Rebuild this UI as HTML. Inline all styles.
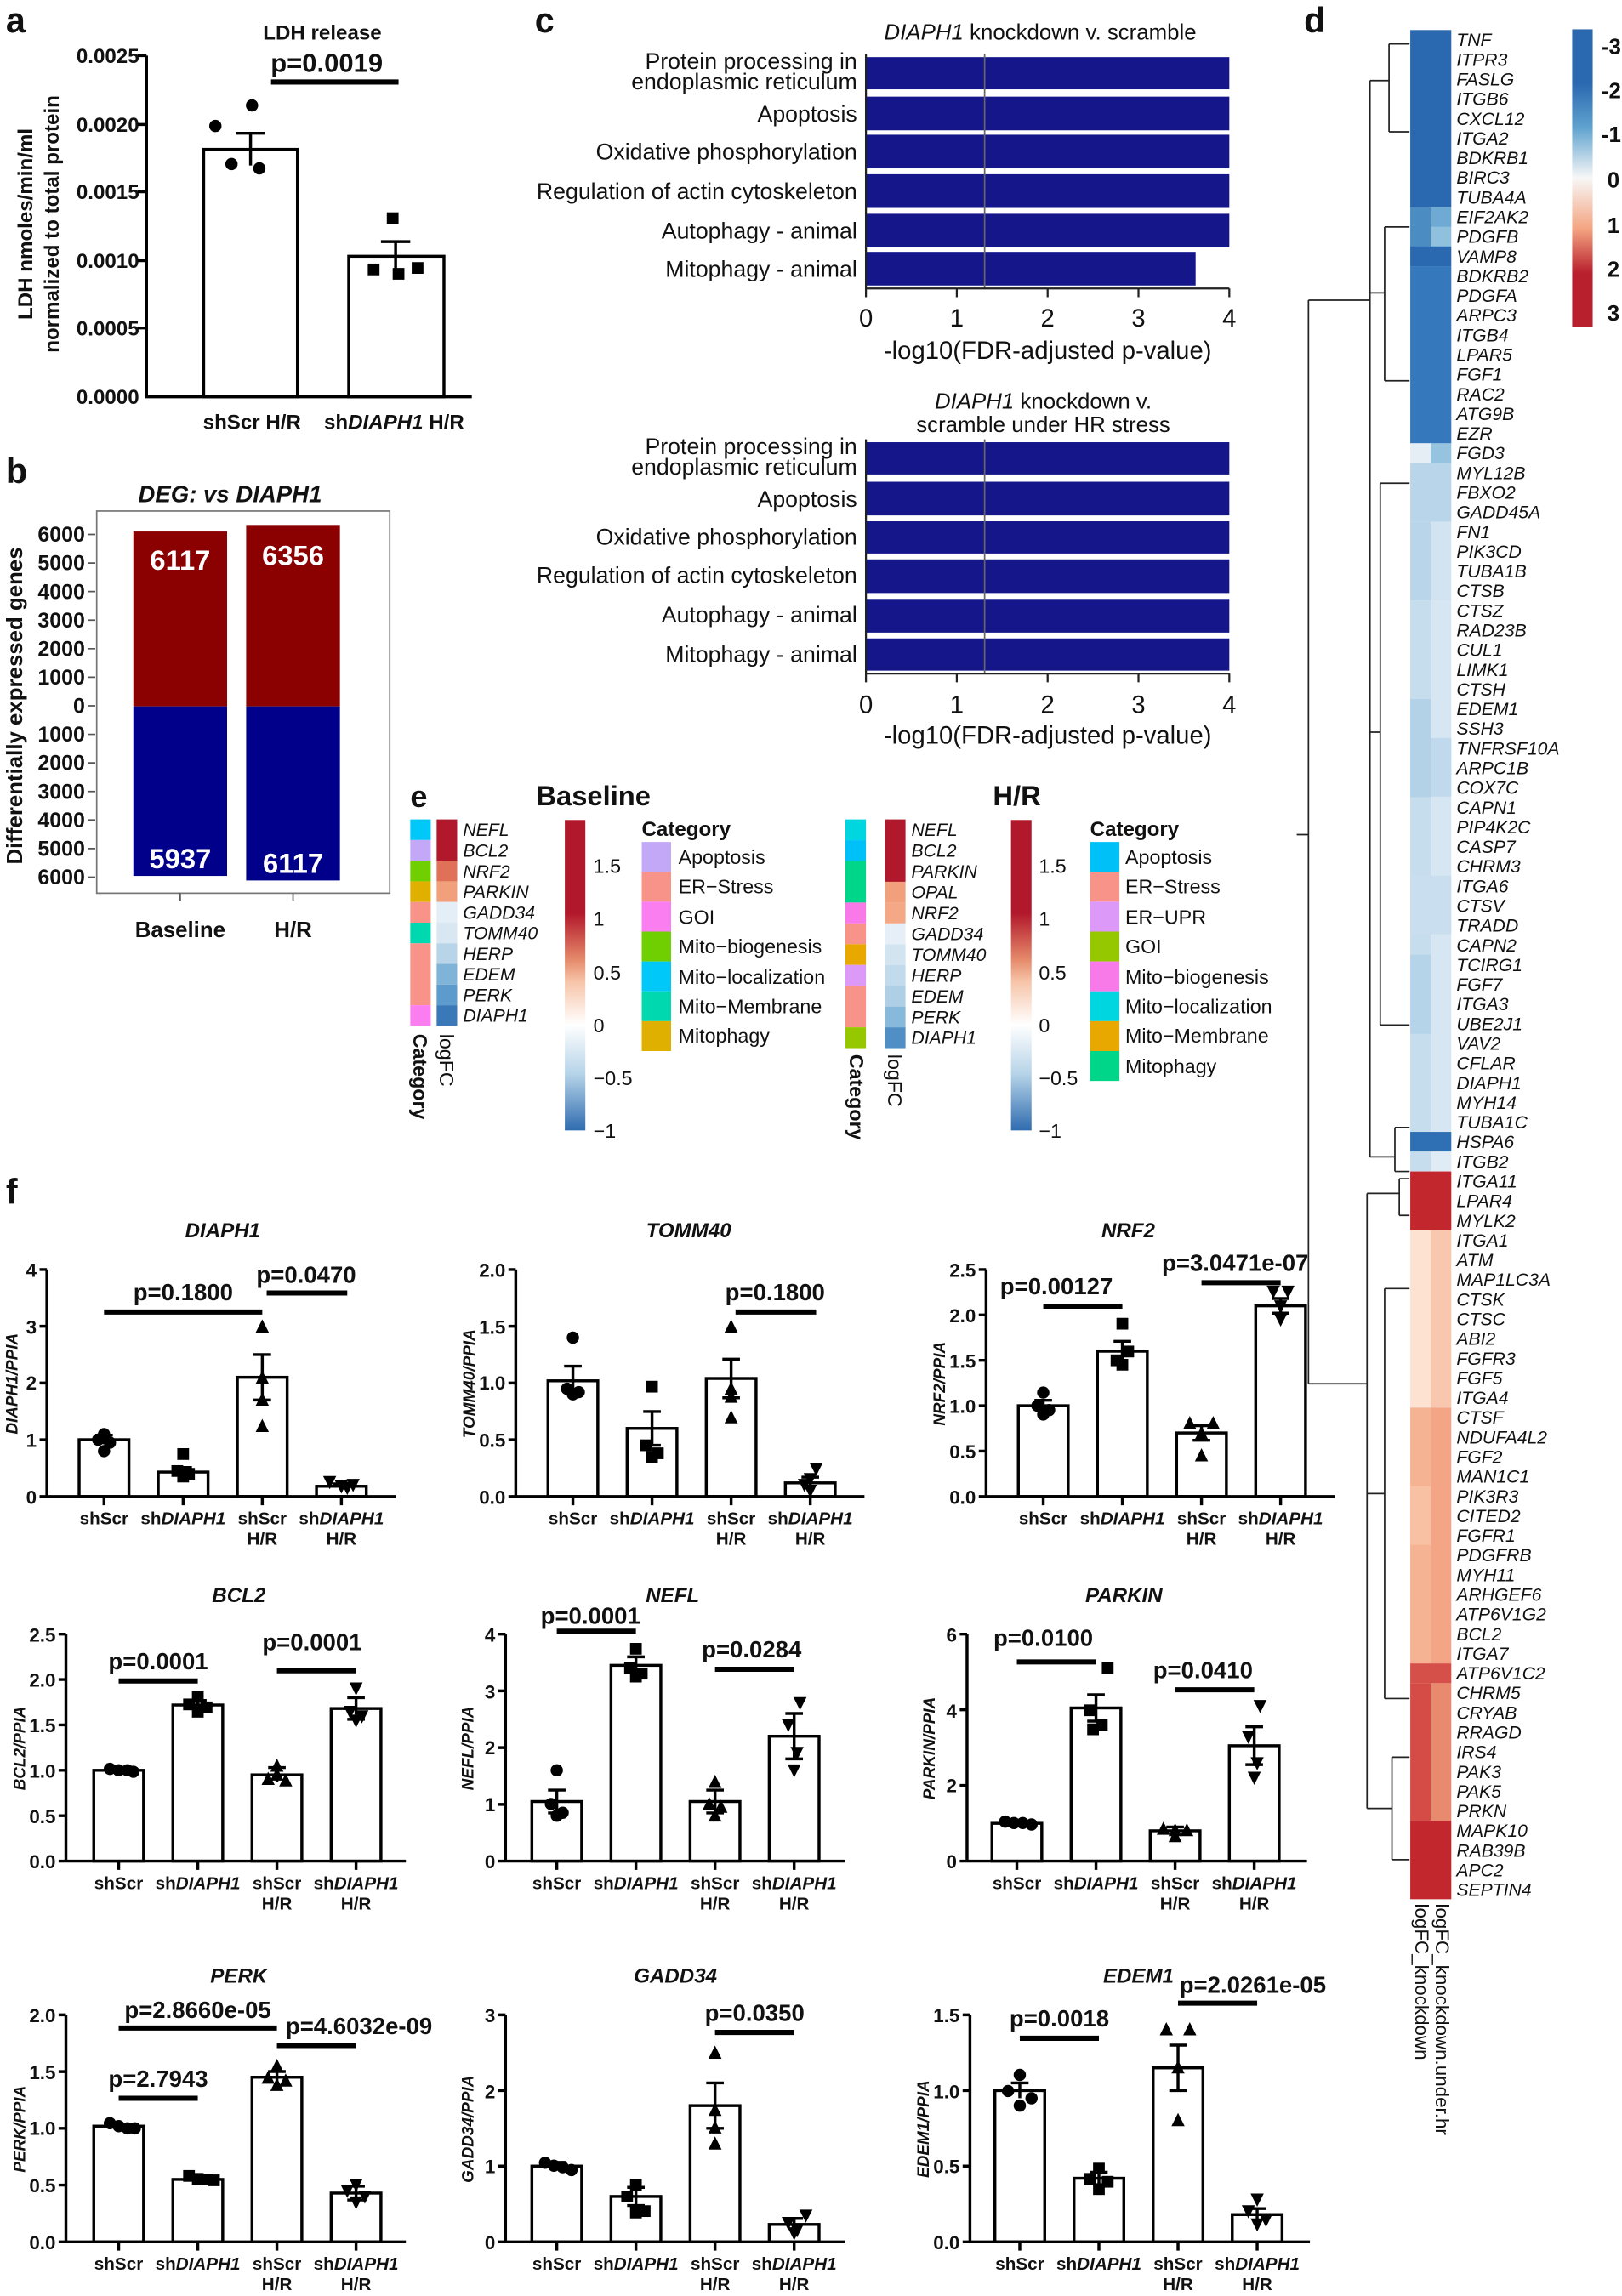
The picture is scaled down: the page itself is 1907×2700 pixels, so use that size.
<!DOCTYPE html>
<html><head><meta charset="utf-8"><style>
html,body{margin:0;padding:0;background:#fff}
svg{display:block}
text{font-family:"Liberation Sans",sans-serif;fill:#111}
.b{font-weight:bold}
.i{font-style:italic}
.tk{font-size:13px;font-weight:bold;text-anchor:end}
.cl{font-size:12px;font-weight:bold;text-anchor:middle}
.pv{font-size:16px;font-weight:bold;text-anchor:middle}
.ttl{font-size:14px;font-weight:bold;font-style:italic;text-anchor:middle}
.yl{font-size:11px;font-weight:bold;font-style:italic;text-anchor:middle}
.bar{fill:#fff;stroke:#000;stroke-width:2}
.ax{stroke:#000;stroke-width:2;fill:none}
.pl{stroke:#000;stroke-width:3.5}
.ct{font-size:15.5px;text-anchor:end}
.hm{font-size:12.3px;font-style:italic}
.lg{font-size:13.5px}
</style></head><body>
<svg width="1907" height="2700" viewBox="0 0 1107 1568" preserveAspectRatio="none" xmlns="http://www.w3.org/2000/svg">
<defs>
<circle id="mc" r="4.2" fill="#000"/>
<rect id="ms" x="-4" y="-4" width="8" height="8" fill="#000"/>
<path id="mt" d="M0,-5 L4.5,4 L-4.5,4Z" fill="#000"/>
<path id="mv" d="M0,5 L4.5,-4 L-4.5,-4Z" fill="#000"/>
<linearGradient id="gd" x1="0" y1="0" x2="0" y2="1">
<stop offset="0" stop-color="#2a68b0"/><stop offset="0.18" stop-color="#2a68b0"/><stop offset="0.33" stop-color="#5fa2cf"/><stop offset="0.5" stop-color="#f7f7f7"/><stop offset="0.67" stop-color="#f4a582"/><stop offset="0.82" stop-color="#b8202d"/><stop offset="1" stop-color="#b8202d"/>
</linearGradient>
<linearGradient id="ge" x1="0" y1="0" x2="0" y2="1">
<stop offset="0" stop-color="#b2182b"/><stop offset="0.3" stop-color="#b2182b"/><stop offset="0.45" stop-color="#e58a6a"/><stop offset="0.52" stop-color="#f7c4a8"/><stop offset="0.66" stop-color="#ffffff"/><stop offset="0.82" stop-color="#b5d3e8"/><stop offset="1" stop-color="#2f6cb0"/>
</linearGradient>
</defs>

<!-- ===== Panel a ===== -->
<text x="4" y="22" class="b" font-size="24">a</text>
<text x="220" y="27" class="b" font-size="14" text-anchor="middle">LDH release</text>
<text x="223" y="49" class="b" font-size="18" text-anchor="middle">p=0.0019</text>
<line x1="185" y1="56" x2="272" y2="56" class="pl"/>
<g transform="rotate(-90)">
<text x="-153" y="22" class="b" font-size="14" text-anchor="middle">LDH nmoles/min/ml</text>
<text x="-153" y="40" class="b" font-size="14" text-anchor="middle">normalized to total protein</text>
</g>
<line x1="100" y1="38" x2="100" y2="271" class="ax"/>
<line x1="99" y1="271" x2="322" y2="271" class="ax"/>
<g font-size="14" font-weight="bold" text-anchor="end"><text x="95" y="43">0.0025</text><text x="95" y="90">0.0020</text><text x="95" y="136">0.0015</text><text x="95" y="183">0.0010</text><text x="95" y="229">0.0005</text><text x="95" y="276">0.0000</text></g>
<path d="M94,38H100M94,85H100M94,131H100M94,178H100M94,224H100" class="ax"/>
<rect x="139" y="102" width="64" height="169" class="bar"/>
<rect x="238" y="175" width="65" height="96" class="bar"/>
<path d="M171,91V113M161,91H181M270,165V186M260,165H280" class="ax"/>
<use href="#mc" x="172" y="72"/><use href="#mc" x="147" y="86"/><use href="#mc" x="177" y="115"/><use href="#mc" x="158" y="112"/>
<use href="#ms" x="268" y="149"/><use href="#ms" x="255" y="184"/><use href="#ms" x="272" y="187"/><use href="#ms" x="285" y="183"/>
<text x="172" y="293" class="b" font-size="14" text-anchor="middle">shScr  H/R</text>
<text x="269" y="293" class="b" font-size="14" text-anchor="middle">sh<tspan class="i">DIAPH1</tspan> H/R</text>

<!-- ===== Panel b ===== -->
<text x="4" y="330" class="b" font-size="24">b</text>
<text x="157" y="343" class="b i" font-size="16" text-anchor="middle">DEG: vs DIAPH1</text>
<rect x="66" y="349" width="200" height="261" fill="none" stroke="#777" stroke-width="1"/>
<path d="M60,365h5M60,384.5h5M60,404h5M60,423.5h5M60,443h5M60,462.5h5M60,482h5M60,501.5h5M60,521h5M60,540.5h5M60,560h5M60,579.5h5M60,599h5M123,610v5M200,610v5" stroke="#555" stroke-width="1"/>
<rect x="91" y="363" width="64" height="119.4" fill="#8b0000"/>
<rect x="168" y="358.5" width="64" height="123.9" fill="#8b0000"/>
<rect x="91" y="482.4" width="64" height="115.8" fill="#00008b"/>
<rect x="168" y="482.4" width="64" height="118.9" fill="#00008b"/>
<text x="123" y="389" class="b" font-size="19" text-anchor="middle" style="fill:#fff">6117</text>
<text x="200" y="386" class="b" font-size="19" text-anchor="middle" style="fill:#fff">6356</text>
<text x="123" y="593" class="b" font-size="19" text-anchor="middle" style="fill:#fff">5937</text>
<text x="200" y="596" class="b" font-size="19" text-anchor="middle" style="fill:#fff">6117</text>
<g font-size="14.5" font-weight="bold" text-anchor="end">
<text x="58" y="370">6000</text><text x="58" y="389.5">5000</text><text x="58" y="409">4000</text><text x="58" y="428.5">3000</text><text x="58" y="448">2000</text><text x="58" y="467.5">1000</text><text x="58" y="487">0</text><text x="58" y="506.5">1000</text><text x="58" y="526">2000</text><text x="58" y="545.5">3000</text><text x="58" y="565">4000</text><text x="58" y="584.5">5000</text><text x="58" y="604">6000</text>
</g>
<text transform="translate(15,482) rotate(-90)" class="b" font-size="15" text-anchor="middle">Differentially expressed genes</text>
<text x="123" y="640" class="b" font-size="15" text-anchor="middle">Baseline</text>
<text x="200" y="640" class="b" font-size="15" text-anchor="middle">H/R</text>

<!-- ===== Panel c ===== -->
<text x="365" y="22" class="b" font-size="24">c</text>
<text x="710" y="27" font-size="15" text-anchor="middle"><tspan class="i">DIAPH1</tspan> knockdown v. scramble</text>
<g fill="#14168a">
<rect x="591" y="39" width="248" height="22"/><rect x="591" y="66" width="248" height="23"/><rect x="591" y="92" width="248" height="23"/><rect x="591" y="119" width="248" height="23"/><rect x="591" y="146" width="248" height="23"/><rect x="591" y="172" width="225" height="23"/>
<rect x="591" y="302" width="248" height="22"/><rect x="591" y="329" width="248" height="23"/><rect x="591" y="356" width="248" height="22"/><rect x="591" y="382" width="248" height="23"/><rect x="591" y="409" width="248" height="23"/><rect x="591" y="436" width="248" height="22"/>
</g>
<line x1="672" y1="37" x2="672" y2="197" stroke="#666" stroke-width="1"/>
<line x1="672" y1="300" x2="672" y2="460" stroke="#666" stroke-width="1"/>
<path d="M591,37V197H839M591,197v6M653,197v6M715,197v6M777,197v6M839,197v6" stroke="#222" stroke-width="1.3" fill="none"/>
<path d="M591,300V460H839M591,460v6M653,460v6M715,460v6M777,460v6M839,460v6" stroke="#222" stroke-width="1.3" fill="none"/>
<g font-size="17" text-anchor="middle">
<text x="591" y="223">0</text><text x="653" y="223">1</text><text x="715" y="223">2</text><text x="777" y="223">3</text><text x="839" y="223">4</text>
<text x="715" y="245">-log10(FDR-adjusted p-value)</text>
<text x="591" y="487">0</text><text x="653" y="487">1</text><text x="715" y="487">2</text><text x="777" y="487">3</text><text x="839" y="487">4</text>
<text x="715" y="508">-log10(FDR-adjusted p-value)</text>
</g>
<g class="ct">
<text x="585" y="47" class="ct">Protein processing in</text><text x="585" y="61" class="ct">endoplasmic reticulum</text>
<text x="585" y="83" class="ct">Apoptosis</text><text x="585" y="109" class="ct">Oxidative phosphorylation</text><text x="585" y="136" class="ct">Regulation of actin cytoskeleton</text><text x="585" y="163" class="ct">Autophagy - animal</text><text x="585" y="189" class="ct">Mitophagy - animal</text>
<text x="585" y="310" class="ct">Protein processing in</text><text x="585" y="324" class="ct">endoplasmic reticulum</text>
<text x="585" y="346" class="ct">Apoptosis</text><text x="585" y="372" class="ct">Oxidative phosphorylation</text><text x="585" y="398" class="ct">Regulation of actin cytoskeleton</text><text x="585" y="425" class="ct">Autophagy - animal</text><text x="585" y="452" class="ct">Mitophagy - animal</text>
</g>
<text x="712" y="279" font-size="15" text-anchor="middle"><tspan class="i">DIAPH1</tspan> knockdown v.</text>
<text x="712" y="295" font-size="15" text-anchor="middle">scramble under HR stress</text>

<!-- ===== Panel d ===== -->
<text x="890" y="22" class="b" font-size="24">d</text>
<path d="M885,570H893M893,205V945M893,205H935M935,55V790M893,945H933M933,815V1235
M935,55H948M948,30V90M948,30H962M948,90H962M935,200H945M945,155V260M945,155H962M945,260H962M935,500H942M942,330V700M942,330H962M942,700H962M935,790H952M952,770V800M952,770H962M952,800H962
M933,815H955M955,805V830M955,805H962M955,830H962M933,1235H950M933,1020H945M945,880V1160M945,880H962M945,1160H962M950,1200V1270M950,1200H962M950,1270H962" stroke="#222" stroke-width="1" fill="none"/>
<g>
<rect x="962.5" y="20.5" width="28" height="121" fill="#2a68b0"/>
<rect x="962.5" y="141.5" width="14" height="27" fill="#4b8dc3"/><rect x="976.5" y="141.5" width="14" height="13.5" fill="#6eaad3"/><rect x="976.5" y="155" width="14" height="13.5" fill="#8fc0de"/>
<rect x="962.5" y="168.3" width="28" height="13.5" fill="#2a68b0"/>
<rect x="962.5" y="181.8" width="28" height="121" fill="#3578bb"/>
<rect x="962.5" y="302.7" width="14" height="13.5" fill="#e5eef5"/><rect x="976.5" y="302.7" width="14" height="13.5" fill="#96c3df"/>
<rect x="962.5" y="316.1" width="28" height="40.3" fill="#b8d5ea"/>
<rect x="962.5" y="356.4" width="14" height="53.8" fill="#b8d5ea"/><rect x="976.5" y="356.4" width="14" height="53.8" fill="#d2e4f1"/>
<rect x="962.5" y="410.2" width="14" height="363" fill="#c6ddee"/><rect x="976.5" y="410.2" width="14" height="363" fill="#d6e7f3"/>
<rect x="962.5" y="477.4" width="14" height="67" fill="#b3d2e8"/><rect x="976.5" y="504" width="14" height="40" fill="#c0d9ec"/>
<rect x="962.5" y="598" width="28" height="40" fill="#c9dfef"/>
<rect x="962.5" y="652" width="14" height="54" fill="#b6d4e9"/>
<rect x="962.5" y="773" width="28" height="13.5" fill="#2f6fb3"/>
<rect x="962.5" y="786.4" width="14" height="13.5" fill="#c6ddee"/><rect x="976.5" y="786.4" width="14" height="13.5" fill="#e0ecf5"/>
<rect x="962.5" y="800" width="28" height="40.3" fill="#c1272d"/>
<rect x="962.5" y="840.3" width="14" height="121" fill="#fde2d2"/><rect x="976.5" y="840.3" width="14" height="121" fill="#f9c7ad"/>
<rect x="962.5" y="961.3" width="14" height="174.7" fill="#f6b394"/><rect x="976.5" y="961.3" width="14" height="174.7" fill="#f3a585"/>
<rect x="962.5" y="1015" width="14" height="40" fill="#f8c1a4"/>
<rect x="962.5" y="1136" width="28" height="13.5" fill="#d6504a"/>
<rect x="962.5" y="1149.5" width="14" height="94" fill="#d44c45"/><rect x="976.5" y="1149.5" width="14" height="94" fill="#e88a6e"/>
<rect x="962.5" y="1243.5" width="28" height="53.5" fill="#c1272d"/>
</g>
<text class="hm" x="994" y="31.5"><tspan x="994">TNF</tspan><tspan x="994" dy="13.44">ITPR3</tspan><tspan x="994" dy="13.44">FASLG</tspan><tspan x="994" dy="13.44">ITGB6</tspan><tspan x="994" dy="13.44">CXCL12</tspan><tspan x="994" dy="13.44">ITGA2</tspan><tspan x="994" dy="13.44">BDKRB1</tspan><tspan x="994" dy="13.44">BIRC3</tspan><tspan x="994" dy="13.44">TUBA4A</tspan><tspan x="994" dy="13.44">EIF2AK2</tspan><tspan x="994" dy="13.44">PDGFB</tspan><tspan x="994" dy="13.44">VAMP8</tspan><tspan x="994" dy="13.44">BDKRB2</tspan><tspan x="994" dy="13.44">PDGFA</tspan><tspan x="994" dy="13.44">ARPC3</tspan><tspan x="994" dy="13.44">ITGB4</tspan><tspan x="994" dy="13.44">LPAR5</tspan><tspan x="994" dy="13.44">FGF1</tspan><tspan x="994" dy="13.44">RAC2</tspan><tspan x="994" dy="13.44">ATG9B</tspan><tspan x="994" dy="13.44">EZR</tspan><tspan x="994" dy="13.44">FGD3</tspan><tspan x="994" dy="13.44">MYL12B</tspan><tspan x="994" dy="13.44">FBXO2</tspan><tspan x="994" dy="13.44">GADD45A</tspan><tspan x="994" dy="13.44">FN1</tspan><tspan x="994" dy="13.44">PIK3CD</tspan><tspan x="994" dy="13.44">TUBA1B</tspan><tspan x="994" dy="13.44">CTSB</tspan><tspan x="994" dy="13.44">CTSZ</tspan><tspan x="994" dy="13.44">RAD23B</tspan><tspan x="994" dy="13.44">CUL1</tspan><tspan x="994" dy="13.44">LIMK1</tspan><tspan x="994" dy="13.44">CTSH</tspan><tspan x="994" dy="13.44">EDEM1</tspan><tspan x="994" dy="13.44">SSH3</tspan><tspan x="994" dy="13.44">TNFRSF10A</tspan><tspan x="994" dy="13.44">ARPC1B</tspan><tspan x="994" dy="13.44">COX7C</tspan><tspan x="994" dy="13.44">CAPN1</tspan><tspan x="994" dy="13.44">PIP4K2C</tspan><tspan x="994" dy="13.44">CASP7</tspan><tspan x="994" dy="13.44">CHRM3</tspan><tspan x="994" dy="13.44">ITGA6</tspan><tspan x="994" dy="13.44">CTSV</tspan><tspan x="994" dy="13.44">TRADD</tspan><tspan x="994" dy="13.44">CAPN2</tspan><tspan x="994" dy="13.44">TCIRG1</tspan><tspan x="994" dy="13.44">FGF7</tspan><tspan x="994" dy="13.44">ITGA3</tspan><tspan x="994" dy="13.44">UBE2J1</tspan><tspan x="994" dy="13.44">VAV2</tspan><tspan x="994" dy="13.44">CFLAR</tspan><tspan x="994" dy="13.44">DIAPH1</tspan><tspan x="994" dy="13.44">MYH14</tspan><tspan x="994" dy="13.44">TUBA1C</tspan><tspan x="994" dy="13.44">HSPA6</tspan><tspan x="994" dy="13.44">ITGB2</tspan><tspan x="994" dy="13.44">ITGA11</tspan><tspan x="994" dy="13.44">LPAR4</tspan><tspan x="994" dy="13.44">MYLK2</tspan><tspan x="994" dy="13.44">ITGA1</tspan><tspan x="994" dy="13.44">ATM</tspan><tspan x="994" dy="13.44">MAP1LC3A</tspan><tspan x="994" dy="13.44">CTSK</tspan><tspan x="994" dy="13.44">CTSC</tspan><tspan x="994" dy="13.44">ABI2</tspan><tspan x="994" dy="13.44">FGFR3</tspan><tspan x="994" dy="13.44">FGF5</tspan><tspan x="994" dy="13.44">ITGA4</tspan><tspan x="994" dy="13.44">CTSF</tspan><tspan x="994" dy="13.44">NDUFA4L2</tspan><tspan x="994" dy="13.44">FGF2</tspan><tspan x="994" dy="13.44">MAN1C1</tspan><tspan x="994" dy="13.44">PIK3R3</tspan><tspan x="994" dy="13.44">CITED2</tspan><tspan x="994" dy="13.44">FGFR1</tspan><tspan x="994" dy="13.44">PDGFRB</tspan><tspan x="994" dy="13.44">MYH11</tspan><tspan x="994" dy="13.44">ARHGEF6</tspan><tspan x="994" dy="13.44">ATP6V1G2</tspan><tspan x="994" dy="13.44">BCL2</tspan><tspan x="994" dy="13.44">ITGA7</tspan><tspan x="994" dy="13.44">ATP6V1C2</tspan><tspan x="994" dy="13.44">CHRM5</tspan><tspan x="994" dy="13.44">CRYAB</tspan><tspan x="994" dy="13.44">RRAGD</tspan><tspan x="994" dy="13.44">IRS4</tspan><tspan x="994" dy="13.44">PAK3</tspan><tspan x="994" dy="13.44">PAK5</tspan><tspan x="994" dy="13.44">PRKN</tspan><tspan x="994" dy="13.44">MAPK10</tspan><tspan x="994" dy="13.44">RAB39B</tspan><tspan x="994" dy="13.44">APC2</tspan><tspan x="994" dy="13.44">SEPTIN4</tspan></text>
<text transform="translate(966,1300) rotate(90)" font-size="13">logFC_knockdown</text>
<text transform="translate(980,1300) rotate(90)" font-size="13">logFC_knockdown.under.hr</text>
<rect x="1073" y="20" width="14" height="203" fill="url(#gd)"/>
<g class="b" font-size="15"><text x="1093" y="37">-3</text><text x="1093" y="67">-2</text><text x="1093" y="97">-1</text><text x="1097" y="128">0</text><text x="1097" y="159">1</text><text x="1097" y="189">2</text><text x="1097" y="219">3</text></g>

<!-- ===== Panel e ===== -->
<text x="280" y="551" class="b" font-size="21">e</text>
<text x="405" y="550" class="b" font-size="19" text-anchor="middle">Baseline</text>
<text x="694" y="550" class="b" font-size="19" text-anchor="middle">H/R</text>
<g>
<rect x="280" y="559.6" width="14" height="14.1" fill="#00c8f8"/><rect x="280" y="573.7" width="14" height="14.1" fill="#c4a8f8"/><rect x="280" y="587.8" width="14" height="14.1" fill="#6fcf00"/><rect x="280" y="601.9" width="14" height="14.1" fill="#e0b000"/><rect x="280" y="616" width="14" height="14.1" fill="#f8938a"/><rect x="280" y="630.1" width="14" height="14.1" fill="#00d9b0"/><rect x="280" y="644.2" width="14" height="42.3" fill="#f8938a"/><rect x="280" y="686.5" width="14" height="14.1" fill="#fb7ef0"/>
<rect x="298" y="559.6" width="14" height="28.2" fill="#b2182b"/><rect x="298" y="587.8" width="14" height="14.1" fill="#e07058"/><rect x="298" y="601.9" width="14" height="14.1" fill="#f2a07c"/><rect x="298" y="616" width="14" height="14.1" fill="#e4eef6"/><rect x="298" y="630.1" width="14" height="14.1" fill="#d8e7f2"/><rect x="298" y="644.2" width="14" height="14.1" fill="#b7d4e9"/><rect x="298" y="658.3" width="14" height="14.1" fill="#7fb3d8"/><rect x="298" y="672.4" width="14" height="14.1" fill="#5c9bcc"/><rect x="298" y="686.5" width="14" height="14.1" fill="#3a78b8"/>
</g>
<text class="hm" font-size="13.5" x="316" y="571"><tspan x="316">NEFL</tspan><tspan x="316" dy="14.1">BCL2</tspan><tspan x="316" dy="14.1">NRF2</tspan><tspan x="316" dy="14.1">PARKIN</tspan><tspan x="316" dy="14.1">GADD34</tspan><tspan x="316" dy="14.1">TOMM40</tspan><tspan x="316" dy="14.1">HERP</tspan><tspan x="316" dy="14.1">EDEM</tspan><tspan x="316" dy="14.1">PERK</tspan><tspan x="316" dy="14.1">DIAPH1</tspan></text>
<text transform="translate(282,706) rotate(90)" class="b" font-size="13.5">Category</text>
<text transform="translate(300,706) rotate(90)" font-size="13.5">logFC</text>
<rect x="385.5" y="560" width="14" height="212" fill="url(#ge)"/>
<g class="lg"><text x="405" y="596">1.5</text><text x="405" y="632">1</text><text x="405" y="669">0.5</text><text x="405" y="705">0</text><text x="405" y="741">−0.5</text><text x="405" y="777">−1</text></g>
<text x="438" y="571" class="b" font-size="14">Category</text>
<g>
<rect x="438" y="575" width="20" height="20.4" fill="#c4a8f8"/><rect x="438" y="595.4" width="20" height="20.4" fill="#f8938a"/><rect x="438" y="615.8" width="20" height="20.4" fill="#fb7ef0"/><rect x="438" y="636.2" width="20" height="20.4" fill="#6fcf00"/><rect x="438" y="656.6" width="20" height="20.4" fill="#00c8f8"/><rect x="438" y="677" width="20" height="20.4" fill="#00d9b0"/><rect x="438" y="697.4" width="20" height="20.4" fill="#e0b000"/>
</g>
<g class="lg"><text x="463" y="590">Apoptosis</text><text x="463" y="610">ER−Stress</text><text x="463" y="631">GOI</text><text x="463" y="651">Mito−biogenesis</text><text x="463" y="672">Mito−localization</text><text x="463" y="692">Mito−Membrane</text><text x="463" y="712">Mitophagy</text></g>

<g>
<rect x="577" y="559.6" width="14" height="14.2" fill="#00d6e0"/><rect x="577" y="573.8" width="14" height="14.2" fill="#00c0f8"/><rect x="577" y="588" width="14" height="28.4" fill="#00d68a"/><rect x="577" y="616.4" width="14" height="14.2" fill="#f77ae8"/><rect x="577" y="630.6" width="14" height="14.2" fill="#f8938a"/><rect x="577" y="644.8" width="14" height="14.2" fill="#e8a800"/><rect x="577" y="659" width="14" height="14.2" fill="#dd99f8"/><rect x="577" y="673.2" width="14" height="28.4" fill="#f8938a"/><rect x="577" y="701.6" width="14" height="14.2" fill="#96c800"/>
<rect x="604" y="559.6" width="14" height="42.6" fill="#b2182b"/><rect x="604" y="602.2" width="14" height="14.2" fill="#f2a07c"/><rect x="604" y="616.4" width="14" height="14.2" fill="#f4a886"/><rect x="604" y="630.6" width="14" height="14.2" fill="#e6eff7"/><rect x="604" y="644.8" width="14" height="14.2" fill="#d3e4f1"/><rect x="604" y="659" width="14" height="14.2" fill="#c2dbec"/><rect x="604" y="673.2" width="14" height="14.2" fill="#aecfe6"/><rect x="604" y="687.4" width="14" height="14.2" fill="#86b9dc"/><rect x="604" y="701.6" width="14" height="14.2" fill="#4f8fc6"/>
</g>
<text class="hm" font-size="13.5" x="622" y="571"><tspan x="622">NEFL</tspan><tspan x="622" dy="14.2">BCL2</tspan><tspan x="622" dy="14.2">PARKIN</tspan><tspan x="622" dy="14.2">OPAL</tspan><tspan x="622" dy="14.2">NRF2</tspan><tspan x="622" dy="14.2">GADD34</tspan><tspan x="622" dy="14.2">TOMM40</tspan><tspan x="622" dy="14.2">HERP</tspan><tspan x="622" dy="14.2">EDEM</tspan><tspan x="622" dy="14.2">PERK</tspan><tspan x="622" dy="14.2">DIAPH1</tspan></text>
<text transform="translate(580,720) rotate(90)" class="b" font-size="13.5">Category</text>
<text transform="translate(606,720) rotate(90)" font-size="13.5">logFC</text>
<rect x="690" y="560" width="14" height="212" fill="url(#ge)"/>
<g class="lg"><text x="709" y="596">1.5</text><text x="709" y="632">1</text><text x="709" y="669">0.5</text><text x="709" y="705">0</text><text x="709" y="741">−0.5</text><text x="709" y="777">−1</text></g>
<text x="744" y="571" class="b" font-size="14">Category</text>
<g>
<rect x="744" y="575" width="20" height="20.4" fill="#00c0f8"/><rect x="744" y="595.4" width="20" height="20.4" fill="#f8938a"/><rect x="744" y="615.8" width="20" height="20.4" fill="#dd99f8"/><rect x="744" y="636.2" width="20" height="20.4" fill="#96c800"/><rect x="744" y="656.6" width="20" height="20.4" fill="#f77ae8"/><rect x="744" y="677" width="20" height="20.4" fill="#00d6e0"/><rect x="744" y="697.4" width="20" height="20.4" fill="#e8a800"/><rect x="744" y="717.8" width="20" height="20.4" fill="#00d68a"/>
</g>
<g class="lg"><text x="768" y="590">Apoptosis</text><text x="768" y="610">ER−Stress</text><text x="768" y="631">ER−UPR</text><text x="768" y="651">GOI</text><text x="768" y="672">Mito−biogenesis</text><text x="768" y="692">Mito−localization</text><text x="768" y="712">Mito−Membrane</text><text x="768" y="733">Mitophagy</text></g>

<!-- ===== Panel f ===== -->
<text x="4" y="822" class="b" font-size="24">f</text>
<text x="152" y="845" class="ttl">DIAPH1</text>
<text x="470" y="845" class="ttl">TOMM40</text>
<text x="770" y="845" class="ttl">NRF2</text>
<text x="163" y="1094" class="ttl">BCL2</text>
<text x="459" y="1094" class="ttl">NEFL</text>
<text x="767" y="1094" class="ttl">PARKIN</text>
<text x="163" y="1354" class="ttl">PERK</text>
<text x="461" y="1354" class="ttl">GADD34</text>
<text x="777" y="1354" class="ttl">EDEM1</text>

<!-- chart 1 DIAPH1 -->
<g transform="translate(32,1022)">
<rect x="22" y="-38.8" width="34" height="38.8" class="bar"/><rect x="76" y="-16.7" width="34" height="16.7" class="bar"/><rect x="130" y="-81.4" width="34" height="81.4" class="bar"/><rect x="184" y="-7" width="34" height="7" class="bar"/>
<path d="M39,-35.7V-41.9M33,-41.9H45M93,-13.6V-19.8M87,-19.8H99M147,-65.9V-96.9M141,-96.9H153M141,-65.9H153M201,-5.4V-8.6M195,-8.6H207" class="ax"/>
<use href="#mc" x="39" y="-42.6"/><use href="#mc" x="35" y="-38.8"/><use href="#mc" x="43" y="-36.8"/><use href="#mc" x="39" y="-31"/>
<use href="#ms" x="93" y="-29"/><use href="#ms" x="89" y="-17.4"/><use href="#ms" x="97" y="-15.5"/><use href="#ms" x="93" y="-13.6"/>
<use href="#mt" x="147" y="-116"/><use href="#mt" x="147" y="-81"/><use href="#mt" x="147" y="-66"/><use href="#mt" x="147" y="-48"/>
<use href="#mv" x="193" y="-10"/><use href="#mv" x="201" y="-7"/><use href="#mv" x="209" y="-8"/><use href="#mv" x="205" y="-6"/>
<path d="M0,-155V0H238M0,-155h-5M0,-116.25h-5M0,-77.5h-5M0,-38.75h-5M0,0h-5M39,0v6M93,0v6M147,0v6M201,0v6" class="ax"/>
<text x="-7" y="-150" class="tk">4</text><text x="-7" y="-111" class="tk">3</text><text x="-7" y="-73" class="tk">2</text><text x="-7" y="-34" class="tk">1</text><text x="-7" y="5" class="tk">0</text>
<text transform="translate(-20,-77) rotate(-90)" class="yl">DIAPH1/PPIA</text>
<line x1="39" y1="-126" x2="147" y2="-126" class="pl"/><text x="93" y="-134" class="pv">p=0.1800</text>
<line x1="150" y1="-139" x2="205" y2="-139" class="pl"/><text x="177" y="-146" class="pv">p=0.0470</text>
<text x="39" y="19" class="cl">shScr</text><text x="93" y="19" class="cl">sh<tspan class="i">DIAPH1</tspan></text><text x="147" y="19" class="cl">shScr</text><text x="201" y="19" class="cl">sh<tspan class="i">DIAPH1</tspan></text><text x="147" y="33" class="cl">H/R</text><text x="201" y="33" class="cl">H/R</text>
</g>

<!-- chart 2 TOMM40 -->
<g transform="translate(352,1022)">
<rect x="22" y="-79" width="34" height="79" class="bar"/><rect x="76" y="-46.5" width="34" height="46.5" class="bar"/><rect x="130" y="-80.6" width="34" height="80.6" class="bar"/><rect x="184" y="-9.3" width="34" height="9.3" class="bar"/>
<path d="M39,-69V-89M33,-89H45M93,-35V-58M87,-58H99M87,-35H99M147,-67.4V-93.8M141,-93.8H153M141,-67.4H153M201,-5.4V-13.2M195,-13.2H207" class="ax"/>
<use href="#mc" x="39" y="-108.5"/><use href="#mc" x="35" y="-73.6"/><use href="#mc" x="43" y="-71.3"/><use href="#mc" x="39" y="-69.8"/>
<use href="#ms" x="93" y="-75"/><use href="#ms" x="89" y="-35"/><use href="#ms" x="97" y="-29.5"/><use href="#ms" x="93" y="-27"/>
<use href="#mt" x="147" y="-116"/><use href="#mt" x="147" y="-73.6"/><use href="#mt" x="147" y="-68"/><use href="#mt" x="147" y="-54"/>
<use href="#mv" x="205" y="-19"/><use href="#mv" x="201" y="-12"/><use href="#mv" x="197" y="-8"/><use href="#mv" x="201" y="-4"/>
<path d="M0,-155V0H238M0,-155h-5M0,-116.25h-5M0,-77.5h-5M0,-38.75h-5M0,0h-5M39,0v6M93,0v6M147,0v6M201,0v6" class="ax"/>
<text x="-7" y="-150" class="tk">2.0</text><text x="-7" y="-111" class="tk">1.5</text><text x="-7" y="-73" class="tk">1.0</text><text x="-7" y="-34" class="tk">0.5</text><text x="-7" y="5" class="tk">0.0</text>
<text transform="translate(-28,-77) rotate(-90)" class="yl">TOMM40/PPIA</text>
<line x1="150" y1="-126" x2="205" y2="-126" class="pl"/><text x="177" y="-134" class="pv">p=0.1800</text>
<text x="39" y="19" class="cl">shScr</text><text x="93" y="19" class="cl">sh<tspan class="i">DIAPH1</tspan></text><text x="147" y="19" class="cl">shScr</text><text x="201" y="19" class="cl">sh<tspan class="i">DIAPH1</tspan></text><text x="147" y="33" class="cl">H/R</text><text x="201" y="33" class="cl">H/R</text>
</g>

<!-- chart 3 NRF2 -->
<g transform="translate(673,1022)">
<rect x="22" y="-62" width="34" height="62" class="bar"/><rect x="76" y="-99.2" width="34" height="99.2" class="bar"/><rect x="130" y="-43.4" width="34" height="43.4" class="bar"/><rect x="184" y="-130.2" width="34" height="130.2" class="bar"/>
<path d="M39,-58.3V-65.7M33,-65.7H45M93,-92.4V-106M87,-106H99M147,-38.4V-48.4M141,-48.4H153M141,-38.4H153M201,-125.2V-135.2M195,-135.2H207M195,-125.2H207" class="ax"/>
<use href="#mc" x="39" y="-71"/><use href="#mc" x="35" y="-62"/><use href="#mc" x="43" y="-59"/><use href="#mc" x="39" y="-56"/>
<use href="#ms" x="93" y="-118"/><use href="#ms" x="97" y="-99"/><use href="#ms" x="89" y="-93"/><use href="#ms" x="93" y="-90"/>
<use href="#mt" x="139" y="-50"/><use href="#mt" x="155" y="-50"/><use href="#mt" x="147" y="-43"/><use href="#mt" x="147" y="-28"/>
<use href="#mv" x="196" y="-140"/><use href="#mv" x="206" y="-140"/><use href="#mv" x="201" y="-130"/><use href="#mv" x="201" y="-121"/>
<path d="M0,-155V0H238M0,-155h-5M0,-124h-5M0,-93h-5M0,-62h-5M0,-31h-5M0,0h-5M39,0v6M93,0v6M147,0v6M201,0v6" class="ax"/>
<text x="-7" y="-150" class="tk">2.5</text><text x="-7" y="-119" class="tk">2.0</text><text x="-7" y="-88" class="tk">1.5</text><text x="-7" y="-57" class="tk">1.0</text><text x="-7" y="-26" class="tk">0.5</text><text x="-7" y="5" class="tk">0.0</text>
<text transform="translate(-28,-77) rotate(-90)" class="yl">NRF2/PPIA</text>
<line x1="39" y1="-130" x2="93" y2="-130" class="pl"/><text x="48" y="-138" class="pv">p=0.00127</text>
<line x1="147" y1="-146" x2="201" y2="-146" class="pl"/><text x="170" y="-154" class="pv">p=3.0471e-07</text>
<text x="39" y="19" class="cl">shScr</text><text x="93" y="19" class="cl">sh<tspan class="i">DIAPH1</tspan></text><text x="147" y="19" class="cl">shScr</text><text x="201" y="19" class="cl">sh<tspan class="i">DIAPH1</tspan></text><text x="147" y="33" class="cl">H/R</text><text x="201" y="33" class="cl">H/R</text>
</g>

<!-- chart 4 BCL2 -->
<g transform="translate(45,1271)">
<rect x="19" y="-62" width="34" height="62" class="bar"/><rect x="73" y="-106.6" width="34" height="106.6" class="bar"/><rect x="127" y="-58.9" width="34" height="58.9" class="bar"/><rect x="181" y="-104.2" width="34" height="104.2" class="bar"/>
<path d="M90,-103.5V-109.7M84,-109.7H96M144,-53.9V-63.9M138,-63.9H150M198,-96.8V-111.6M192,-111.6H204M192,-96.8H204" class="ax"/>
<use href="#mc" x="30" y="-63"/><use href="#mc" x="36" y="-62"/><use href="#mc" x="42" y="-62"/><use href="#mc" x="46" y="-61"/>
<use href="#ms" x="90" y="-112"/><use href="#ms" x="84" y="-107"/><use href="#ms" x="96" y="-105"/><use href="#ms" x="90" y="-102"/>
<use href="#mt" x="144" y="-65"/><use href="#mt" x="144" y="-59"/><use href="#mt" x="138" y="-56"/><use href="#mt" x="150" y="-55"/>
<use href="#mv" x="198" y="-118"/><use href="#mv" x="194" y="-102"/><use href="#mv" x="202" y="-99"/><use href="#mv" x="198" y="-96"/>
<path d="M0,-155V0H232M0,-155h-5M0,-124h-5M0,-93h-5M0,-62h-5M0,-31h-5M0,0h-5M36,0v6M90,0v6M144,0v6M198,0v6" class="ax"/>
<text x="-7" y="-150" class="tk">2.5</text><text x="-7" y="-119" class="tk">2.0</text><text x="-7" y="-88" class="tk">1.5</text><text x="-7" y="-57" class="tk">1.0</text><text x="-7" y="-26" class="tk">0.5</text><text x="-7" y="5" class="tk">0.0</text>
<text transform="translate(-28,-77) rotate(-90)" class="yl">BCL2/PPIA</text>
<line x1="36" y1="-123" x2="90" y2="-123" class="pl"/><text x="63" y="-131" class="pv">p=0.0001</text>
<line x1="144" y1="-130" x2="198" y2="-130" class="pl"/><text x="168" y="-144" class="pv">p=0.0001</text>
<text x="36" y="19" class="cl">shScr</text><text x="90" y="19" class="cl">sh<tspan class="i">DIAPH1</tspan></text><text x="144" y="19" class="cl">shScr</text><text x="198" y="19" class="cl">sh<tspan class="i">DIAPH1</tspan></text><text x="144" y="33" class="cl">H/R</text><text x="198" y="33" class="cl">H/R</text>
</g>

<!-- chart 5 NEFL -->
<g transform="translate(345,1271)">
<rect x="18" y="-40.7" width="34" height="40.7" class="bar"/><rect x="72" y="-133.7" width="34" height="133.7" class="bar"/><rect x="126" y="-40.7" width="34" height="40.7" class="bar"/><rect x="180" y="-85.3" width="34" height="85.3" class="bar"/>
<path d="M35,-32.9V-48.5M29,-48.5H41M29,-32.9H41M89,-127.9V-139.5M83,-139.5H95M143,-32.9V-48.5M137,-48.5H149M137,-32.9H149M197,-69.8V-100.8M191,-100.8H203M191,-69.8H203" class="ax"/>
<use href="#mc" x="35" y="-62"/><use href="#mc" x="31" y="-39"/><use href="#mc" x="39" y="-33"/><use href="#mc" x="35" y="-31"/>
<use href="#ms" x="89" y="-145"/><use href="#ms" x="85" y="-132"/><use href="#ms" x="93" y="-128"/><use href="#ms" x="89" y="-126"/>
<use href="#mt" x="143" y="-54"/><use href="#mt" x="139" y="-39"/><use href="#mt" x="147" y="-37"/><use href="#mt" x="143" y="-31"/>
<use href="#mv" x="201" y="-108"/><use href="#mv" x="193" y="-93"/><use href="#mv" x="199" y="-74"/><use href="#mv" x="197" y="-62"/>
<path d="M0,-155V0H232M0,-155h-5M0,-116.25h-5M0,-77.5h-5M0,-38.75h-5M0,0h-5M35,0v6M89,0v6M143,0v6M197,0v6" class="ax"/>
<text x="-7" y="-150" class="tk">4</text><text x="-7" y="-111" class="tk">3</text><text x="-7" y="-73" class="tk">2</text><text x="-7" y="-34" class="tk">1</text><text x="-7" y="5" class="tk">0</text>
<text transform="translate(-22,-77) rotate(-90)" class="yl">NEFL/PPIA</text>
<line x1="35" y1="-157" x2="89" y2="-157" class="pl"/><text x="58" y="-162" class="pv">p=0.0001</text>
<line x1="143" y1="-131" x2="197" y2="-131" class="pl"/><text x="168" y="-139" class="pv">p=0.0284</text>
<text x="35" y="19" class="cl">shScr</text><text x="89" y="19" class="cl">sh<tspan class="i">DIAPH1</tspan></text><text x="143" y="19" class="cl">shScr</text><text x="197" y="19" class="cl">sh<tspan class="i">DIAPH1</tspan></text><text x="143" y="33" class="cl">H/R</text><text x="197" y="33" class="cl">H/R</text>
</g>

<!-- chart 6 PARKIN -->
<g transform="translate(660,1271)">
<rect x="17" y="-25.8" width="34" height="25.8" class="bar"/><rect x="71" y="-104.6" width="34" height="104.6" class="bar"/><rect x="125" y="-20.7" width="34" height="20.7" class="bar"/><rect x="179" y="-78.8" width="34" height="78.8" class="bar"/>
<path d="M88,-95.6V-113.6M82,-113.6H94M82,-95.6H94M142,-18.1V-23.3M136,-23.3H148M196,-65.9V-91.7M190,-91.7H202M190,-65.9H202" class="ax"/>
<use href="#mc" x="26" y="-27"/><use href="#mc" x="32" y="-26"/><use href="#mc" x="38" y="-26"/><use href="#mc" x="44" y="-25"/>
<use href="#ms" x="96" y="-132"/><use href="#ms" x="84" y="-103"/><use href="#ms" x="92" y="-93"/><use href="#ms" x="86" y="-90"/>
<use href="#mt" x="134" y="-22"/><use href="#mt" x="142" y="-21"/><use href="#mt" x="150" y="-21"/><use href="#mt" x="142" y="-17"/>
<use href="#mv" x="200" y="-106"/><use href="#mv" x="192" y="-85"/><use href="#mv" x="198" y="-67"/><use href="#mv" x="196" y="-57"/>
<path d="M0,-155V0H232M0,-155h-5M0,-103.3h-5M0,-51.7h-5M0,0h-5M34,0v6M88,0v6M142,0v6M196,0v6" class="ax"/>
<text x="-7" y="-150" class="tk">6</text><text x="-7" y="-98" class="tk">4</text><text x="-7" y="-47" class="tk">2</text><text x="-7" y="5" class="tk">0</text>
<text transform="translate(-22,-77) rotate(-90)" class="yl">PARKIN/PPIA</text>
<line x1="34" y1="-136" x2="88" y2="-136" class="pl"/><text x="52" y="-147" class="pv">p=0.0100</text>
<line x1="142" y1="-117" x2="196" y2="-117" class="pl"/><text x="161" y="-125" class="pv">p=0.0410</text>
<text x="34" y="19" class="cl">shScr</text><text x="88" y="19" class="cl">sh<tspan class="i">DIAPH1</tspan></text><text x="142" y="19" class="cl">shScr</text><text x="196" y="19" class="cl">sh<tspan class="i">DIAPH1</tspan></text><text x="142" y="33" class="cl">H/R</text><text x="196" y="33" class="cl">H/R</text>
</g>

<!-- chart 7 PERK -->
<g transform="translate(45,1531)">
<rect x="19" y="-79" width="34" height="79" class="bar"/><rect x="73" y="-42.6" width="34" height="42.6" class="bar"/><rect x="127" y="-112.4" width="34" height="112.4" class="bar"/><rect x="181" y="-33.3" width="34" height="33.3" class="bar"/>
<path d="M144,-108.5V-116.3M138,-116.3H150M198,-28.6V-38M192,-38H204M192,-28.6H204" class="ax"/>
<use href="#mc" x="30" y="-81"/><use href="#mc" x="36" y="-79"/><use href="#mc" x="42" y="-77.5"/><use href="#mc" x="47" y="-77.5"/>
<use href="#ms" x="84" y="-45"/><use href="#ms" x="90" y="-43"/><use href="#ms" x="96" y="-42.6"/><use href="#ms" x="101" y="-42"/>
<use href="#mt" x="144" y="-120"/><use href="#mt" x="138" y="-112"/><use href="#mt" x="150" y="-110"/><use href="#mt" x="144" y="-107"/>
<use href="#mv" x="198" y="-39"/><use href="#mv" x="192" y="-35"/><use href="#mv" x="204" y="-31"/><use href="#mv" x="198" y="-27"/>
<path d="M0,-155V0H232M0,-155h-5M0,-116.25h-5M0,-77.5h-5M0,-38.75h-5M0,0h-5M36,0v6M90,0v6M144,0v6M198,0v6" class="ax"/>
<text x="-7" y="-150" class="tk">2.0</text><text x="-7" y="-111" class="tk">1.5</text><text x="-7" y="-73" class="tk">1.0</text><text x="-7" y="-34" class="tk">0.5</text><text x="-7" y="5" class="tk">0.0</text>
<text transform="translate(-28,-77) rotate(-90)" class="yl">PERK/PPIA</text>
<line x1="36" y1="-146" x2="144" y2="-146" class="pl"/><text x="90" y="-153" class="pv">p=2.8660e-05</text>
<line x1="36" y1="-98" x2="90" y2="-98" class="pl"/><text x="63" y="-106" class="pv">p=2.7943</text>
<line x1="144" y1="-134" x2="198" y2="-134" class="pl"/><text x="200" y="-142" class="pv">p=4.6032e-09</text>
<text x="36" y="19" class="cl">shScr</text><text x="90" y="19" class="cl">sh<tspan class="i">DIAPH1</tspan></text><text x="144" y="19" class="cl">shScr</text><text x="198" y="19" class="cl">sh<tspan class="i">DIAPH1</tspan></text><text x="144" y="33" class="cl">H/R</text><text x="198" y="33" class="cl">H/R</text>
</g>

<!-- chart 8 GADD34 -->
<g transform="translate(345,1531)">
<rect x="18" y="-51.7" width="34" height="51.7" class="bar"/><rect x="72" y="-31" width="34" height="31" class="bar"/><rect x="126" y="-93" width="34" height="93" class="bar"/><rect x="180" y="-11.9" width="34" height="11.9" class="bar"/>
<path d="M35,-49.1V-54.3M29,-54.3H41M89,-24.8V-37.2M83,-37.2H95M83,-24.8H95M143,-77.5V-108.5M137,-108.5H149M137,-77.5H149M197,-7.8V-16M191,-16H203" class="ax"/>
<use href="#mc" x="27" y="-54"/><use href="#mc" x="33" y="-52"/><use href="#mc" x="39" y="-51"/><use href="#mc" x="45" y="-49"/>
<use href="#ms" x="89" y="-39"/><use href="#ms" x="83" y="-31"/><use href="#ms" x="95" y="-21"/><use href="#ms" x="89" y="-20"/>
<use href="#mt" x="143" y="-129"/><use href="#mt" x="143" y="-90"/><use href="#mt" x="143" y="-78"/><use href="#mt" x="143" y="-67"/>
<use href="#mv" x="205" y="-18"/><use href="#mv" x="193" y="-13"/><use href="#mv" x="199" y="-8"/><use href="#mv" x="197" y="-6"/>
<path d="M0,-155V0H232M0,-155h-5M0,-103.3h-5M0,-51.7h-5M0,0h-5M35,0v6M89,0v6M143,0v6M197,0v6" class="ax"/>
<text x="-7" y="-150" class="tk">3</text><text x="-7" y="-98" class="tk">2</text><text x="-7" y="-47" class="tk">1</text><text x="-7" y="5" class="tk">0</text>
<text transform="translate(-22,-77) rotate(-90)" class="yl">GADD34/PPIA</text>
<line x1="143" y1="-143" x2="197" y2="-143" class="pl"/><text x="170" y="-151" class="pv">p=0.0350</text>
<text x="35" y="19" class="cl">shScr</text><text x="89" y="19" class="cl">sh<tspan class="i">DIAPH1</tspan></text><text x="143" y="19" class="cl">shScr</text><text x="197" y="19" class="cl">sh<tspan class="i">DIAPH1</tspan></text><text x="143" y="33" class="cl">H/R</text><text x="197" y="33" class="cl">H/R</text>
</g>

<!-- chart 9 EDEM1 -->
<g transform="translate(662,1531)">
<rect x="17" y="-103.3" width="34" height="103.3" class="bar"/><rect x="71" y="-43.4" width="34" height="43.4" class="bar"/><rect x="125" y="-118.8" width="34" height="118.8" class="bar"/><rect x="179" y="-18.6" width="34" height="18.6" class="bar"/>
<path d="M34,-98.1V-108.5M28,-108.5H40M88,-39.3V-47.5M82,-47.5H94M142,-103.3V-134.3M136,-134.3H148M136,-103.3H148M196,-14.5V-22.7M190,-22.7H202" class="ax"/>
<use href="#mc" x="34" y="-114"/><use href="#mc" x="26" y="-103"/><use href="#mc" x="42" y="-98"/><use href="#mc" x="34" y="-93"/>
<use href="#ms" x="88" y="-50"/><use href="#ms" x="82" y="-43"/><use href="#ms" x="94" y="-41"/><use href="#ms" x="88" y="-36"/>
<use href="#mt" x="134" y="-145"/><use href="#mt" x="150" y="-145"/><use href="#mt" x="142" y="-119"/><use href="#mt" x="142" y="-83"/>
<use href="#mv" x="196" y="-29"/><use href="#mv" x="190" y="-21"/><use href="#mv" x="202" y="-15"/><use href="#mv" x="196" y="-12"/>
<path d="M0,-155V0H232M0,-155h-5M0,-103.3h-5M0,-51.7h-5M0,0h-5M34,0v6M88,0v6M142,0v6M196,0v6" class="ax"/>
<text x="-7" y="-150" class="tk">1.5</text><text x="-7" y="-98" class="tk">1.0</text><text x="-7" y="-47" class="tk">0.5</text><text x="-7" y="5" class="tk">0.0</text>
<text transform="translate(-28,-77) rotate(-90)" class="yl">EDEM1/PPIA</text>
<line x1="34" y1="-139" x2="88" y2="-139" class="pl"/><text x="61" y="-147" class="pv">p=0.0018</text>
<line x1="142" y1="-163" x2="196" y2="-163" class="pl"/><text x="193" y="-170" class="pv">p=2.0261e-05</text>
<text x="34" y="19" class="cl">shScr</text><text x="88" y="19" class="cl">sh<tspan class="i">DIAPH1</tspan></text><text x="142" y="19" class="cl">shScr</text><text x="196" y="19" class="cl">sh<tspan class="i">DIAPH1</tspan></text><text x="142" y="33" class="cl">H/R</text><text x="196" y="33" class="cl">H/R</text>
</g>
</svg>
</body></html>
